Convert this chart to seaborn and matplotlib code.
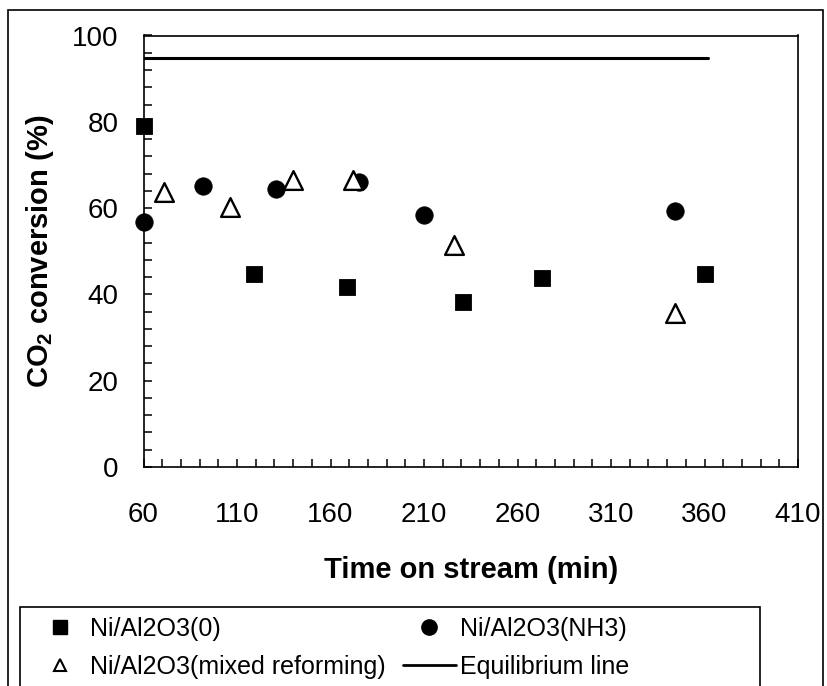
import numpy as np
import matplotlib
matplotlib.use("Agg")
import matplotlib.pyplot as plt
from matplotlib.lines import Line2D
from matplotlib.patches import Rectangle
import seaborn as sns

# CO2 conversion (%) versus time on stream (min)
time_ni0 = [60, 119, 169, 231, 273, 360]
conv_ni0 = [79.0, 44.7, 41.6, 38.2, 43.8, 44.7]

time_nh3 = [60, 92, 131, 175, 210, 344]
conv_nh3 = [56.8, 65.2, 64.4, 66.1, 58.4, 59.4]

time_mix = [71, 106, 140, 172, 226, 344]
conv_mix = [63.8, 60.3, 66.5, 66.5, 51.4, 35.6]

eq_time = [60, 362]
eq_conv = [94.8, 94.8]

label_ni0 = "Ni/Al2O3(0)"
label_nh3 = "Ni/Al2O3(NH3)"
label_mix = "Ni/Al2O3(mixed reforming)"
label_eq = "Equilibrium line"

x_major = np.arange(60, 411, 50)
x_minor = np.arange(60, 411, 10)
y_major = np.arange(0, 101, 20)
y_minor = np.arange(0, 101, 4)

sns.set_style("ticks")
plt.rcParams["font.family"] = ["Liberation Sans", "DejaVu Sans"]
plt.rcParams["mathtext.fontset"] = "custom"
plt.rcParams["mathtext.rm"] = "Liberation Sans"
plt.rcParams["mathtext.bf"] = "Liberation Sans:bold"
for key in ("text.color", "axes.labelcolor", "xtick.color", "ytick.color",
            "axes.edgecolor"):
    plt.rcParams[key] = "black"

W, H = 827, 686
fig = plt.figure(figsize=(W / 100, H / 100), dpi=100)


def fx(px):
    return px / W


def fy(py):
    return 1 - py / H


ax = fig.add_axes([fx(143.5), fy(467), (798 - 143.5) / W, (467 - 35.5) / H])

sns.lineplot(x=eq_time, y=eq_conv, color="black", linewidth=2.2, ax=ax,
             zorder=2)
sns.scatterplot(x=time_ni0, y=conv_ni0, marker="s", s=12 ** 2,
                color="black", edgecolor="black", linewidth=0.6, ax=ax,
                zorder=3, clip_on=False)
sns.scatterplot(x=time_nh3, y=conv_nh3, marker="o", s=12.5 ** 2,
                color="black", edgecolor="black", linewidth=0.6, ax=ax,
                zorder=4, clip_on=False)
sns.scatterplot(x=time_mix, y=conv_mix, marker="^", s=13.5 ** 2,
                color="white", edgecolor="black", linewidth=1.7, ax=ax,
                zorder=5, clip_on=False)

ax.set_xlim(60, 410)
ax.set_ylim(0, 100)
ax.set_xticks(x_major)
ax.set_xticks(x_minor, minor=True)
ax.set_yticks(y_major)
ax.set_yticks(y_minor, minor=True)
ax.tick_params(which="both", direction="in", length=5.8, width=1.1,
               color="black", labelcolor="black", top=False, right=False)
ax.tick_params(axis="y", which="major", pad=18, labelsize=20)
ax.tick_params(axis="x", which="major", pad=25, labelsize=20)
for sp in ax.spines.values():
    sp.set_visible(True)
    sp.set_linewidth(1.2)
    sp.set_color("black")

ax.set_xlabel("Time on stream (min)", fontsize=21, fontweight="bold",
              color="black")
ax.xaxis.set_label_coords(0.5, (467 - 570) / 431.5)
ax.xaxis.label.set_va("center")
ax.set_ylabel(r"CO$_\mathbf{2}$ conversion (%)", fontsize=21,
              fontweight="bold", color="black")
ax.yaxis.set_label_coords((40 - 143.5) / 654.5, 0.5)
ax.yaxis.label.set_va("center")

# outer chart border and legend box
fig.add_artist(Rectangle((fx(8), fy(720)), fx(823) - fx(8), fy(10) - fy(720),
                         transform=fig.transFigure, fill=False,
                         edgecolor="black", linewidth=1.2, clip_on=False))
fig.add_artist(Rectangle((fx(20), fy(720)), fx(760) - fx(20),
                         fy(607) - fy(720), transform=fig.transFigure,
                         fill=False, edgecolor="black", linewidth=1.2,
                         clip_on=False))

handles = [
    Line2D([], [], marker="s", color="black", linestyle="none",
           markersize=10.5),
    Line2D([], [], marker="^", markerfacecolor="white",
           markeredgecolor="black", markeredgewidth=1.5, linestyle="none",
           markersize=9),
    Line2D([], [], marker="o", color="black", linestyle="none",
           markersize=11),
    Line2D([], [], color="black", linewidth=2.0),
]
labels = [label_ni0, label_mix, label_nh3, label_eq]
fig.legend(handles, labels, loc="upper left",
           bbox_to_anchor=(fx(20), fy(603)), ncol=2, frameon=False,
           fontsize=18, borderpad=0.56, handlelength=2.1,
           handletextpad=0.16, columnspacing=0.68, labelspacing=0.55,
           borderaxespad=0, labelcolor="black")

fig.savefig("out.png", dpi=100)
